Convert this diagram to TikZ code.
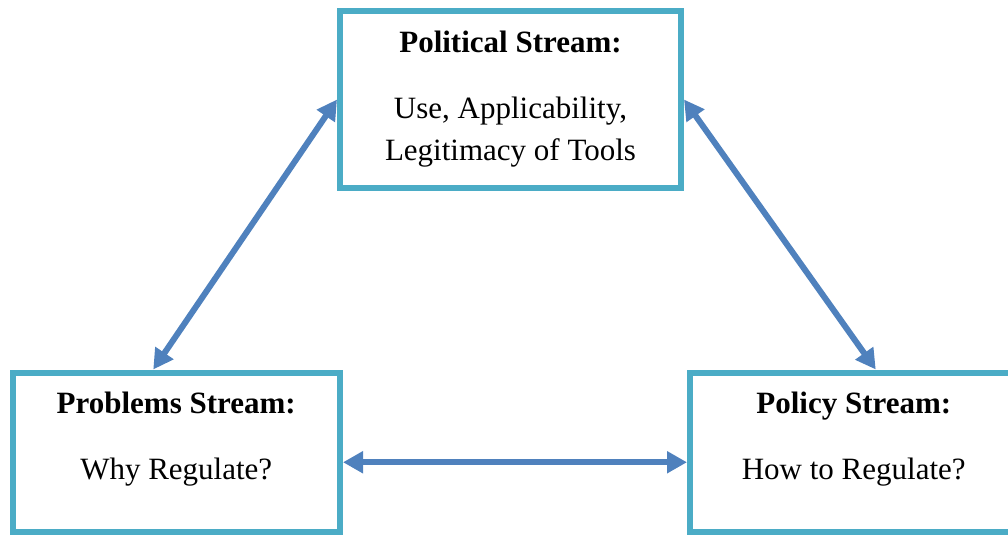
\documentclass[tikz,border=0pt]{standalone}
\usepackage{fontspec}
\setmainfont{Liberation Serif}
\usepackage{xcolor}
\usetikzlibrary{positioning, arrows.meta}
\definecolor{boxcol}{HTML}{4BACC6}
\definecolor{linkcol}{HTML}{4F81BD}
\begin{document}
\begin{tikzpicture}[
    x=1pt, y=-1pt,
    stream/.style={draw=boxcol, line width=6pt, rectangle, fill=white},
    title/.style={anchor=base, font=\fontsize{31}{42}\selectfont\bfseries, inner sep=0pt},
    body/.style={anchor=base, align=center, font=\fontsize{31}{42}\selectfont, inner sep=0pt},
    link/.style={draw=linkcol, line width=6pt, {Triangle[length=20pt, width=21pt]}-{Triangle[length=20pt, width=21pt]}}
]
\useasboundingbox (0,0) rectangle (1008,535);
% Streams
\node[stream, minimum width=341pt, minimum height=176pt] (pol) at (510.5, 99.5) {};
\node[stream, minimum width=327.5pt, minimum height=159.5pt] (prob) at (176.25, 452.25) {};
\node[stream, minimum width=327.5pt, minimum height=159.5pt] (pcy) at (853.75, 452.25) {};

% Texts
\node[title] (polt) at ([yshift=-44pt]pol.north) {Political Stream:};
\node[body] (polb) at ([yshift=-107.5pt]polt.base) {Use, Applicability,\\Legitimacy of Tools};
\node[title] (probt) at ([yshift=-43.5pt]prob.north) {Problems Stream:};
\node[body] (probb) at ([yshift=-66.5pt]probt.base) {Why Regulate?};
\node[title] (pcyt) at ([yshift=-43.5pt]pcy.north) {Policy Stream:};
\node[body] (pcyb) at ([yshift=-66.5pt]pcyt.base) {How to Regulate?};

% Links
\draw[link] (pol.west) -- ([xshift=-23pt]prob.north);
\draw[link] (pol.east) -- ([xshift=22pt]pcy.north);
\draw[link] ([yshift=-10pt]prob.east) -- ([yshift=-10pt]pcy.west);
\end{tikzpicture}
\end{document}
